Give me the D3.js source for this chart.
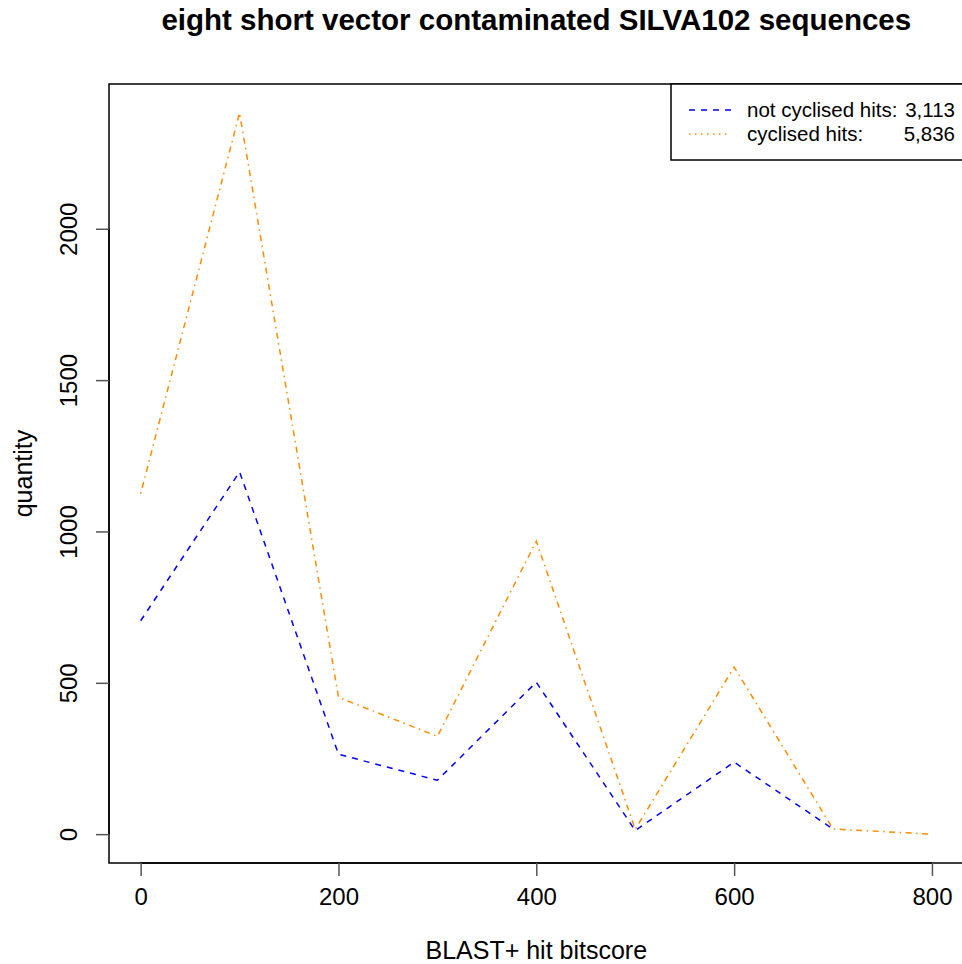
<!DOCTYPE html>
<html>
<head>
<meta charset="utf-8">
<script src="https://cdn.jsdelivr.net/npm/d3@7"></script>
<style>
  html, body { margin: 0; padding: 0; background: #fff; }
  svg { display: block; font-family: "Liberation Sans", Arial, Helvetica, sans-serif; }
</style>
</head>
<body>
<svg id="chart" width="962" height="964"></svg>
<script>
// BLAST+ bitscore bins (lower edge of each 100-wide bin)
const bitscores = [0, 100, 200, 300, 400, 500, 600, 700, 800];
// hit counts per bin
const notCyclised = [705, 1197, 264, 178, 502, 12, 238, 17];
const cyclised = [1125, 2383, 452, 323, 968, 16, 552, 17, 0];
const xTicks = [0, 200, 400, 600, 800];
const yTicks = [0, 500, 1000, 1500, 2000];
const legendLabels = ["not cyclised hits:", "cyclised hits:"];
const legendTotals = ["3,113", "5,836"];

const svg = d3.select("#chart");
const plot = { left: 109, top: 84, bottom: 863, right: 963.6 };

// R-style 4% padding around the data range
const xMin = d3.min(bitscores), xMax = d3.max(bitscores);
const yMax = d3.max(cyclised.concat(notCyclised)), yMin = 0;
const xPad = (xMax - xMin) * 0.04, yPad = (yMax - yMin) * 0.04;

const x = d3.scaleLinear().domain([xMin - xPad, xMax + xPad]).range([plot.left, plot.right]);
const y = d3.scaleLinear().domain([yMin - yPad, yMax + yPad]).range([plot.bottom, plot.top]);

// series lines
const line = d3.line().x(d => x(d[0])).y(d => y(d[1]));
svg.append("path")
  .datum(notCyclised.map((v, i) => [bitscores[i], v]))
  .attr("d", line)
  .attr("fill", "none").attr("stroke", "#0000ff").attr("stroke-width", 1.5)
  .attr("stroke-dasharray", "6,6");
svg.append("path")
  .datum(cyclised.map((v, i) => [bitscores[i], v]))
  .attr("d", line)
  .attr("fill", "none").attr("stroke", "#ff8c00").attr("stroke-width", 1.5)
  .attr("stroke-dasharray", "1.5,4.5,6,4.5");

// plot box
svg.append("rect")
  .attr("x", plot.left).attr("y", plot.top)
  .attr("width", plot.right - plot.left).attr("height", plot.bottom - plot.top)
  .attr("fill", "none").attr("stroke", "#000").attr("stroke-width", 1.5);

// x axis
const xAxis = d3.axisBottom(x).tickValues(xTicks).tickSize(13).tickPadding(12).tickFormat(d3.format("d"));
const gx = svg.append("g").attr("transform", `translate(0,${plot.bottom})`).call(xAxis);
gx.select(".domain").attr("d", `M${x(xTicks[0])},0H${x(xTicks[xTicks.length - 1])}`).attr("stroke-width", 1.5);
gx.selectAll(".tick line").attr("stroke", "#555").attr("stroke-width", 1.5);
gx.selectAll(".tick text").attr("font-size", 24).attr("font-family", "Liberation Sans, Arial, sans-serif").attr("fill", "#000");

// y axis with rotated labels
const yAxis = d3.axisLeft(y).tickValues(yTicks).tickSize(13).tickFormat(d3.format("d"));
const gy = svg.append("g").attr("transform", `translate(${plot.left},0)`).call(yAxis);
gy.select(".domain").attr("d", `M0,${y(yTicks[0])}V${y(yTicks[yTicks.length - 1])}`).attr("stroke-width", 1.5);
gy.selectAll(".tick line").attr("stroke", "#555").attr("stroke-width", 1.5);
gy.selectAll(".tick text")
  .attr("font-size", 24).attr("font-family", "Liberation Sans, Arial, sans-serif").attr("fill", "#000")
  .attr("x", null).attr("dy", null)
  .attr("text-anchor", "middle")
  .attr("transform", "translate(-32,0) rotate(-90)")
  .attr("y", 0);

// titles
const cx = (plot.left + plot.right) / 2;
svg.append("text").attr("x", cx).attr("y", 30).attr("text-anchor", "middle")
  .attr("font-size", 29.5).attr("font-weight", "bold").text("eight short vector contaminated SILVA102 sequences");
svg.append("text").attr("x", cx).attr("y", 959).attr("text-anchor", "middle")
  .attr("font-size", 25).text("BLAST+ hit bitscore");
svg.append("text").attr("transform", `translate(32,${(plot.top + plot.bottom) / 2}) rotate(-90)`)
  .attr("text-anchor", "middle").attr("font-size", 25).text("quantity");

// legend
const lg = svg.append("g");
lg.append("rect").attr("x", 671).attr("y", 84).attr("width", 300).attr("height", 76)
  .attr("fill", "#fff").attr("stroke", "#000").attr("stroke-width", 1.5);
const legendStyles = [
  { color: "#0000ff", dash: "6,6" },
  { color: "#ff8c00", dash: "1.5,4.5" }
];
const rowY = [110, 134];
legendLabels.forEach((lab, i) => {
  lg.append("line").attr("x1", 689).attr("x2", 731).attr("y1", rowY[i]).attr("y2", rowY[i])
    .attr("stroke", legendStyles[i].color).attr("stroke-width", 1.5).attr("stroke-dasharray", legendStyles[i].dash);
  lg.append("text").attr("x", 747).attr("y", rowY[i] + 7).attr("font-size", 20.5).text(lab);
  lg.append("text").attr("x", 955).attr("y", rowY[i] + 7).attr("font-size", 20.5)
    .attr("text-anchor", "end").text(legendTotals[i]);
});
</script>
</body>
</html>
